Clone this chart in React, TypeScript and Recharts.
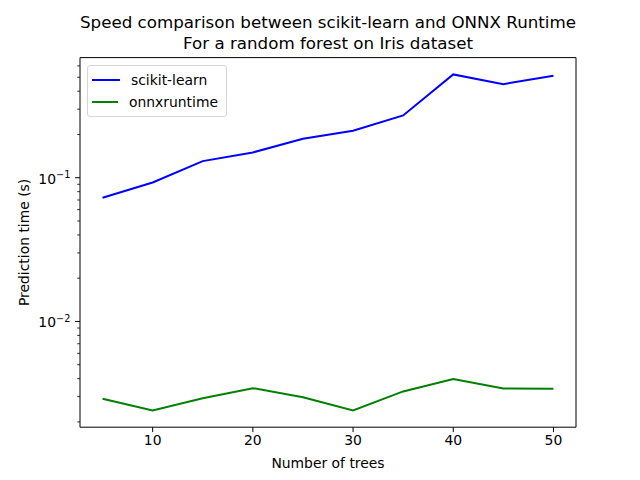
import React from 'react';
import { LineChart, Line, XAxis, YAxis, Legend, Customized, ReferenceLine } from 'recharts';

const trees = [5, 10, 15, 20, 25, 30, 35, 40, 45, 50];
const sklearnTimes = [0.0726, 0.0927, 0.1305, 0.15, 0.1867, 0.2124, 0.2714, 0.5234, 0.448, 0.5124];
const onnxTimes = [0.0029, 0.002406, 0.00292, 0.003436, 0.002972, 0.002406, 0.003261, 0.003972, 0.00342, 0.003403];

const xTicks = [10, 20, 30, 40, 50];
const yTicks = [
  0.002, 0.003, 0.004, 0.005, 0.006, 0.007, 0.008, 0.009,
  0.01, 0.02, 0.03, 0.04, 0.05, 0.06, 0.07, 0.08, 0.09,
  0.1, 0.2, 0.3, 0.4, 0.5, 0.6,
];
const majorLabels: Record<string, string> = { '0.01': '−2', '0.1': '−1' };

const titleLines = ['Speed comparison between scikit-learn and ONNX Runtime', 'For a random forest on Iris dataset'];
const xLabel = 'Number of trees';
const yLabel = 'Prediction time (s)';

const X_DOMAIN: [number, number] = [2.75, 52.25];
const Y_DOMAIN: [number, number] = [0.001838, 0.6852];

const data = trees.map((t, i) => ({ trees: t, sk: sklearnTimes[i], onnx: onnxTimes[i] }));

const FONT = 'DejaVu Sans';
const FS = 13.9;

const YTick = (props: any) => {
  const { x, y, payload } = props;
  const key = String(payload.value);
  const exp = majorLabels[key];
  if (exp) {
    return (
      <g>
        <line x1={x - 4.9} x2={x} y1={y} y2={y} stroke="#000" strokeWidth={1} />
        <text x={x - 9.7} y={y + 6} textAnchor="end" fontFamily={FONT} fontSize={FS} fill="#000">
          <tspan>10</tspan>
          <tspan dy={-5.5} fontSize={9.7}>{exp}</tspan>
        </text>
      </g>
    );
  }
  return <line x1={x - 2.8} x2={x} y1={y} y2={y} stroke="#000" strokeWidth={0.8} />;
};

const Title = () => (
  <g>
    <text x={328} y={28} textAnchor="middle" fontFamily={FONT} fontSize={16.7} fill="#000">{titleLines[0]}</text>
    <text x={328} y={48.5} textAnchor="middle" fontFamily={FONT} fontSize={16.7} fill="#000">{titleLines[1]}</text>
  </g>
);

const LegendBox = (props: any) => {
  const items = [
    { label: 'scikit-learn', color: '#0000ff' },
    { label: 'onnxruntime', color: '#008000' },
  ];
  return (
    <div
      style={{
        border: '1px solid #d6d6d6',
        borderRadius: 3,
        background: 'rgba(255,255,255,0.8)',
        padding: '3px 8px 3px 4px',
        fontFamily: FONT,
        fontSize: FS,
        width: 126,
        boxSizing: 'content-box',
      }}
    >
      {items.map((it) => (
        <div key={it.label} style={{ display: 'flex', alignItems: 'center', height: 22 }}>
          <svg width={28} height={4} style={{ marginRight: 11 }}>
            <line x1={0} x2={28} y1={2} y2={2} stroke={it.color} strokeWidth={2} />
          </svg>
          <span style={{ color: '#000', lineHeight: '16px' }}>{it.label}</span>
        </div>
      ))}
    </div>
  );
};

export default function App() {
  return (
    <div style={{ position: 'absolute', left: 0, top: 0, width: 640, height: 480, background: '#fff' }}>
      <LineChart width={640} height={480} data={data} margin={{ top: 57.6, right: 64, bottom: 0, left: 0 }}>
        <XAxis
          dataKey="trees"
          type="number"
          domain={X_DOMAIN}
          allowDataOverflow
          ticks={xTicks}
          interval={0}
          height={52.8}
          tickSize={4.9}
          tickMargin={3.5}
          stroke="#000"
          tick={{ fill: '#000', fontFamily: FONT, fontSize: FS }}
          tickLine={{ stroke: '#000' }}
          axisLine={{ stroke: '#000' }}
          label={{ value: xLabel, position: 'insideBottom', offset: 12, fill: '#000', fontFamily: FONT, fontSize: FS }}
        />
        <YAxis
          type="number"
          scale="log"
          domain={Y_DOMAIN}
          allowDataOverflow
          ticks={yTicks}
          interval={0}
          width={80}
          tickSize={0}
          tickMargin={0}
          tick={<YTick />}
          tickLine={false}
          axisLine={{ stroke: '#000' }}
          label={{ value: yLabel, angle: -90, position: 'insideLeft', offset: 24, style: { textAnchor: 'middle' }, fill: '#000', fontFamily: FONT, fontSize: FS }}
        />
        <ReferenceLine y={Y_DOMAIN[1]} stroke="#000" strokeWidth={1} ifOverflow="extendDomain" />
        <ReferenceLine x={X_DOMAIN[1]} stroke="#000" strokeWidth={1} ifOverflow="extendDomain" />
        <Line dataKey="sk" stroke="#0000ff" strokeWidth={2} dot={false} isAnimationActive={false} />
        <Line dataKey="onnx" stroke="#008000" strokeWidth={2} dot={false} isAnimationActive={false} />
        <Legend
          layout="horizontal"
          verticalAlign="middle"
          align="center"
          content={<LegendBox />}
          wrapperStyle={{ position: 'absolute', left: 87, top: 65, width: 'auto', height: 'auto' }}
        />
        <Customized component={<Title />} />
      </LineChart>
    </div>
  );
}
